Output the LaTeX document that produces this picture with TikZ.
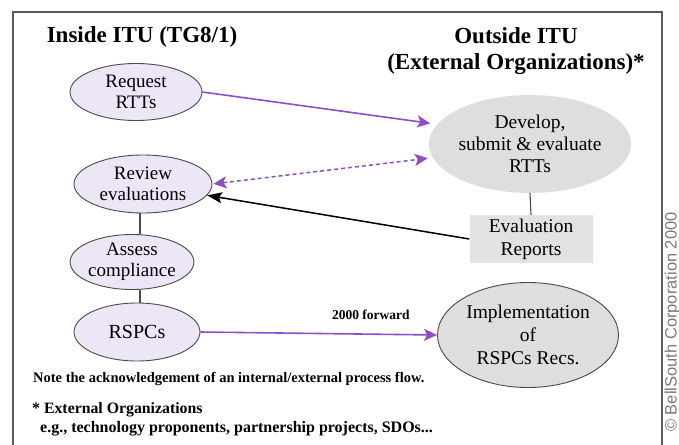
\documentclass[tikz,border=0pt]{standalone}
\usepackage{fontspec}
\setmainfont{Liberation Serif}
\newfontfamily\creditfont{Liberation Sans}
\usetikzlibrary{shapes.geometric,arrows.meta}
\definecolor{flowpurple}{HTML}{8E4EC6}
\definecolor{lavender}{HTML}{ECE6F6}
\definecolor{ovalline}{HTML}{4A4A4A}
\definecolor{softgray}{HTML}{DEDEDE}
\definecolor{boxgray}{HTML}{E2E2E2}
\definecolor{framegray}{HTML}{5A5A5A}
\definecolor{creditgray}{HTML}{7A7A7A}
\begin{document}
\begin{tikzpicture}[x=1pt,y=-1pt,
  inside/.style={ellipse, draw=ovalline, line width=0.9pt, fill=lavender,
    inner sep=0pt, align=center, font=\fontsize{19}{21}\selectfont},
  outside/.style={ellipse, fill=softgray, inner sep=0pt, align=center,
    font=\fontsize{19.5}{22}\selectfont},
  reportbox/.style={rectangle, fill=boxgray, inner sep=0pt, align=center,
    minimum width=123pt, minimum height=48pt, font=\fontsize{19.5}{23}\selectfont},
  heading/.style={font=\bfseries\fontsize{23}{26}\selectfont, align=center, inner sep=0pt},
  notetext/.style={font=\bfseries, anchor=base west, inner sep=0pt},
  flow/.style={draw=flowpurple, line width=1.6pt,
    -{Stealth[length=13pt,width=12pt,inset=3pt]}},
  feedback/.style={draw=flowpurple, line width=1.5pt, dash pattern=on 4pt off 3pt,
    {Stealth[length=13pt,width=12pt,inset=3pt]}-{Stealth[length=13pt,width=12pt,inset=3pt]}},
  reportflow/.style={draw=black, line width=1.5pt,
    -{Stealth[length=15pt,width=11pt,inset=3pt]}},
  link/.style={draw=ovalline, line width=1.1pt}]

\useasboundingbox (0,0) rectangle (679,444);
\clip (0,0) rectangle (679,444);

% outer frame (its lower edge runs off the page)
\draw[framegray, line width=1.2pt] (13,12) rectangle (662,470);

% column headings
\node[heading, anchor=base] (insidehead) at (142,43) {Inside ITU (TG8/1)};
\node[heading] (outsidehead) at (516,51) {Outside ITU\\(External Organizations)*};

% internal process
\node[inside, minimum width=132pt, minimum height=57pt] (req) at (136,92) {Request\\RTTs};
\node[inside, minimum width=138pt, minimum height=58pt] (rev) at (143,184) {Review\\evaluations};
\node[inside, minimum width=116pt, minimum height=55pt] (assess) at (132,262) {Assess\\compliance};
\node[inside, minimum width=126pt, minimum height=58pt,
      font=\fontsize{20}{22}\selectfont] (rspc) at (137,332) {RSPCs};

% external organizations
\node[outside, minimum width=180pt, minimum height=98pt] (dev) at (530,144)
  {Develop,\\submit \& evaluate\\RTTs};
\node[reportbox] (eval) at (531,239) {Evaluation\\Reports};
\node[outside, draw=ovalline, line width=0.9pt, minimum width=181pt, minimum height=105pt,
      font=\fontsize{19.5}{23}\selectfont] (impl) at (528,335)
  {Implementation\\of\\RSPCs Recs.};

% vertical chain of the internal steps
\coordinate (spine) at (140,0);
\draw[link] (rev.south -| spine) -- (assess.north -| spine);
\draw[link] (assess.south -| spine) -- (rspc.north -| spine);
\draw[link] (dev.south) -- (eval.north);

% connectors between inside and outside
\draw[flow, shorten >=7pt] (req.east) -- (dev.168);
\draw[feedback, shorten <=1pt, shorten >=5pt] (rev.east) -- (dev.188);
\draw[reportflow] (eval.west) -- (rev.-10);
\draw[flow] (rspc.east) -- (impl.west)
  node[pos=0.72, anchor=base, yshift=15pt, inner sep=0pt,
       font=\bfseries\fontsize{13.5}{15}\selectfont] (fwd) {2000 forward};

% notes
\node[notetext, font=\bfseries\fontsize{14.5}{16}\selectfont] (note) at (33,382)
  {Note the acknowledgement of an internal/external process flow.};
\node[notetext, font=\bfseries\fontsize{15.8}{18}\selectfont] (extorg) at (32,413)
  {* External Organizations};
\node[notetext, font=\bfseries\fontsize{16}{18}\selectfont] (examples) at (40,432)
  {e.g., technology proponents, partnership projects, SDOs...};

% credit line along the right margin
\node[rotate=90, anchor=base, inner sep=0pt, text=creditgray,
      font=\creditfont\fontsize{16.5}{16.5}\selectfont] (credit) at (676.5,322)
  {© BellSouth Corporation 2000};
\end{tikzpicture}
\end{document}
